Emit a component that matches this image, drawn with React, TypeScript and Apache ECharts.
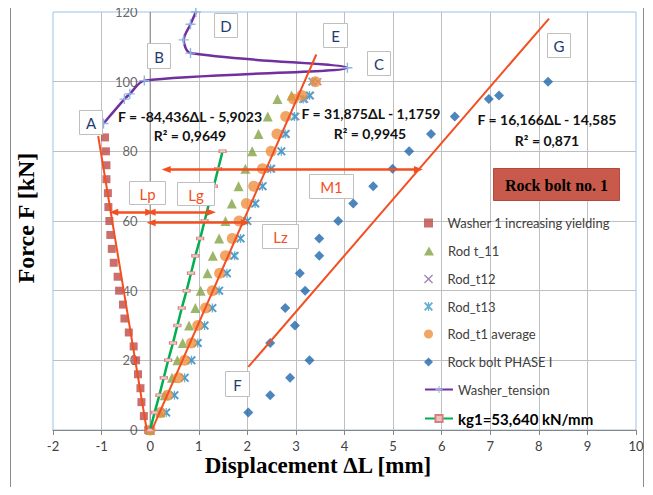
import React, { useEffect, useRef } from 'react';
import * as echarts from 'echarts';

// ---- data (x = displacement ΔL [mm], y = force F [kN]) ----
const yTickValues = [0, 20, 40, 60, 80, 100, 120];
const washerYielding: [number, number][] = [
  [-0.04, 0], [-0.13, 4], [-0.18, 8], [-0.2, 12], [-0.25, 16], [-0.29, 20], [-0.34, 24], [-0.44, 28],
  [-0.53, 32], [-0.56, 36], [-0.64, 40], [-0.67, 44], [-0.75, 48], [-0.79, 52], [-0.82, 56], [-0.84, 60],
  [-0.86, 64], [-0.87, 68], [-0.9, 72], [-0.9, 76], [-0.91, 80], [-0.93, 84],
];
const rodT11: [number, number][] = [
  [0, 0], [0.21, 5], [0.3, 10], [0.45, 15], [0.56, 20], [0.67, 25], [0.8, 30], [0.93, 35], [1.04, 40],
  [1.18, 45], [1.29, 50], [1.42, 55], [1.55, 60], [1.68, 65], [1.82, 70], [1.96, 75], [2.1, 80],
  [2.23, 85], [2.42, 90], [2.62, 95], [2.91, 96],
];
const rodT12: [number, number][] = [
  [0, 0], [0.33, 5], [0.5, 10], [0.71, 15], [0.85, 20], [0.98, 25], [1.12, 30], [1.28, 35], [1.42, 40],
  [1.58, 45], [1.72, 50], [1.86, 55], [2.0, 60], [2.17, 65], [2.32, 70], [2.5, 75], [2.7, 80],
  [2.8, 85], [3.0, 90], [3.18, 95], [3.3, 96], [3.45, 100],
];
const rodT13: [number, number][] = [
  [0, 0], [0.33, 5], [0.5, 10], [0.71, 15], [0.85, 20], [0.98, 25], [1.12, 30], [1.28, 35], [1.42, 40],
  [1.58, 45], [1.74, 50], [1.86, 55], [2.0, 60], [2.16, 65], [2.31, 70], [2.48, 75], [2.7, 80],
  [2.78, 85], [2.97, 90], [3.15, 95], [3.28, 96], [3.34, 100],
];
const rodAverage: [number, number][] = [
  [0, 0], [0.21, 5], [0.36, 10], [0.58, 15], [0.71, 20], [0.85, 25], [0.98, 30], [1.14, 35], [1.28, 40],
  [1.43, 45], [1.55, 50], [1.69, 55], [1.83, 60], [1.98, 65], [2.13, 70], [2.31, 75], [2.49, 80],
  [2.61, 85], [2.79, 90], [2.95, 95], [3.12, 96], [3.4, 100],
];
const rockBoltPhase1: [number, number][] = [
  [2.02, 5], [2.47, 10], [2.88, 15], [3.28, 20], [2.47, 25], [2.98, 30], [2.78, 35], [3.19, 40],
  [3.08, 45], [3.48, 50], [3.48, 55], [3.87, 60], [4.18, 65], [4.59, 70], [4.99, 75], [5.33, 80],
  [5.78, 85], [6.27, 90], [6.97, 95], [7.18, 96], [8.19, 100],
];
const washerTension: [number, number][] = [
  [-0.96, 88], [-0.53, 95], [-0.42, 96.5], [-0.12, 100.3], [4.06, 104], [0.83, 108.2],
  [0.69, 112], [0.83, 116.5], [0.94, 120],
];
const kg1Line: [number, number][] = [
  [0, 0], [0.09, 5], [0.19, 10], [0.28, 15], [0.37, 20], [0.47, 25], [0.56, 30], [0.65, 35], [0.75, 40],
  [0.84, 45], [0.93, 50], [1.03, 55], [1.12, 60], [1.21, 65], [1.31, 70], [1.4, 75], [1.49, 80],
];
const trendWasher: [number, number][] = [[-0.07, 0], [-1.07, 84.4]];
const trendRod: [number, number][] = [[0.04, 0.1], [3.42, 107.8]];
const trendRockBolt: [number, number][] = [[2.02, 18.1], [8.21, 118.1]];
const arrowLp: [number, number][] = [[-0.75, 62.5], [-0.01, 62.5]];
const arrowLg: [number, number][] = [[0.02, 62.5], [1.26, 62.5]];
const arrowLz: [number, number][] = [[0.02, 59.5], [1.96, 59.5]];
const arrowM1: [number, number][] = [[0.33, 74.8], [5.52, 74.8]];

const legendNames = [
  'Washer 1 increasing yielding', 'Rod t_11', 'Rod_t12', 'Rod_t13', 'Rod_t1 average',
  'Rock bolt PHASE I', 'Washer_tension', 'kg1=53,640 kN/mm',
];
const equationTexts = [
  ['F = -84,436ΔL - 5,9023', 'R² = 0,9649'],
  ['F = 31,875ΔL - 1,1759', 'R² = 0,9945'],
  ['F = 16,166ΔL - 14,585', 'R² = 0,871'],
];
const pointLabels = ['A', 'B', 'C', 'D', 'E', 'F', 'G'];
const lengthLabels = ['Lp', 'Lg', 'M1', 'Lz'];

// ---- layout / style constants ----
const ORANGE = '#F25022';
const NAVY = '#1F3A70';
const SQUARE_PATH = 'path://M0,0H10V10H0Z';
const TRIANGLE_PATH = 'path://M5,0L10,9L0,9Z';
const DIAMOND_PATH = 'path://M5,0L10,5L5,10L0,5Z';
const X_PATH = 'path://M0,1L1,0L5,4L9,0L10,1L6,5L10,9L9,10L5,6L1,10L0,9L4,5Z';
const STAR_PATH = 'path://M0,1.5L1.5,0L5,3.5L8.5,0L10,1.5L6.5,5L10,8.5L8.5,10L5,6.5L1.5,10L0,8.5L3.5,5ZM4.3,0L5.7,0L5.7,10L4.3,10Z';
const PLUS_PATH = 'path://M4.3,0H5.7V4.3H10V5.7H5.7V10H4.3V5.7H0V4.3H4.3Z';

const pointBoxes: Record<string, [number, number, number, number]> = {
  A: [79, 110, 23, 24], B: [147, 43, 23, 25], C: [367, 51, 23, 24], D: [214, 13, 23, 24],
  E: [323, 23, 24, 24], F: [225, 371, 24, 25], G: [547, 33, 23, 24],
};
const lengthBoxes: Record<string, [number, number, number, number]> = {
  Lp: [129, 181, 36, 23], Lg: [177, 182, 37, 23], M1: [309, 174, 44, 24], Lz: [262, 224, 36, 24],
};
const equationPos: [number, number, number, number][] = [
  [190, 116, 190, 135], [371, 113, 370, 133], [547, 119, 547, 140],
];
const legendCenters = [221, 249, 277, 304.5, 332, 360, 387.5, 415.5];

function boxGraphic(label: string, b: [number, number, number, number], color: string) {
  return {
    type: 'group',
    z: 100,
    children: [
      {
        type: 'rect',
        shape: { x: b[0] + 0.5, y: b[1] + 0.5, width: b[2], height: b[3] },
        style: { fill: '#ffffff', stroke: '#BFBFBF', lineWidth: 1 },
        z: 100,
      },
      {
        type: 'text',
        x: b[0] + b[2] / 2 + 0.5,
        y: b[1] + b[3] / 2 + 1,
        style: {
          text: label, fill: color, font: '15px Lato', align: 'center', verticalAlign: 'middle',
        },
        z: 101,
      },
    ],
  };
}

function trendSeries(data: [number, number][]) {
  return {
    type: 'line', data, symbol: 'none', silent: true, z: 5,
    lineStyle: { color: ORANGE, width: 2 }, itemStyle: { color: ORANGE },
  };
}

export default function App() {
  const ref = useRef<HTMLDivElement>(null);
  useEffect(() => {
    if (!ref.current) return;
    const chart = echarts.init(ref.current, undefined, { renderer: 'svg' });
    const labelStyle = { color: '#404040', fontSize: 13, fontFamily: 'Lato' };
    const graphics: any[] = [
      {
        type: 'rect', z: 0,
        shape: { x: 10.5, y: 2.5, width: 633, height: 488 },
        style: { fill: 'none', stroke: '#8C8C8C', lineWidth: 1 },
      },
      {
        type: 'text', x: 318, y: 465, z: 50,
        style: { text: 'Displacement ΔL [mm]', font: 'bold 23px "Liberation Serif"', fill: '#000', align: 'center', verticalAlign: 'middle' },
      },
      {
        type: 'text', x: 26, y: 218, rotation: Math.PI / 2, z: 50,
        style: { text: 'Force F [kN]', font: 'bold 24px "Liberation Serif"', fill: '#000', align: 'center', verticalAlign: 'middle' },
      },
    ];
    equationTexts.forEach((lines, i) => {
      const p = equationPos[i];
      graphics.push({
        type: 'text', x: p[0], y: p[1], z: 60,
        style: { text: lines[0], font: 'bold 14px Lato', fill: '#111', align: 'center', verticalAlign: 'middle' },
      });
      graphics.push({
        type: 'text', x: p[2], y: p[3], z: 60,
        style: { text: lines[1], font: 'bold 14px Lato', fill: '#111', align: 'center', verticalAlign: 'middle' },
      });
    });
    pointLabels.forEach((l) => graphics.push(boxGraphic(l, pointBoxes[l], NAVY)));
    lengthLabels.forEach((l) => graphics.push(boxGraphic(l, lengthBoxes[l], ORANGE)));
    graphics.push({
      type: 'group', z: 100,
      children: [
        {
          type: 'rect', z: 100,
          shape: { x: 493.5, y: 168.5, width: 126, height: 32 },
          style: { fill: '#C95A4B', stroke: '#B04A3E', lineWidth: 1 },
        },
        {
          type: 'text', x: 556.5, y: 185, z: 101,
          style: { text: 'Rock bolt no. 1', font: 'bold 16px "Liberation Serif"', fill: '#000', align: 'center', verticalAlign: 'middle' },
        },
      ],
    });

    const option: any = {
      animation: false,
      backgroundColor: '#ffffff',
      grid: {
        left: 53, right: 17, top: 12, bottom: 65,
        show: true, borderColor: '#9DC3E6', borderWidth: 1, backgroundColor: 'transparent',
      },
      xAxis: {
        type: 'value', min: -2, max: 10, interval: 1,
        axisLine: { onZero: false, lineStyle: { color: '#868686', width: 1 } },
        axisTick: { show: true, length: 5, lineStyle: { color: '#868686' } },
        axisLabel: { ...labelStyle, margin: 9 },
        splitLine: { show: true, showMinLine: false, showMaxLine: false, lineStyle: { color: '#BFBFBF', width: 1 } },
      },
      yAxis: {
        type: 'value', min: 0, max: 120, interval: 20,
        axisLine: { show: false },
        axisTick: { show: false },
        axisLabel: { show: false },
        splitLine: { show: true, showMinLine: false, showMaxLine: false, lineStyle: { color: '#BFBFBF', width: 1 } },
      },
      legend: legendNames.map((name, i) => ({
        data: [name],
        left: 424,
        top: legendCenters[i] - 4.5,
        padding: 0,
        itemWidth: 28,
        itemHeight: 9,
        itemGap: 0,
        selectedMode: false,
        textStyle: i === 7
          ? { fontFamily: 'Lato', fontSize: 15, fontWeight: 'bold', color: '#000', lineHeight: 9 }
          : { fontFamily: 'Lato', fontSize: 13, color: '#404040', lineHeight: 9 },
      })),
      graphic: graphics,
      series: [
        {
          // y-axis line at ΔL = 0 with its tick labels
          type: 'line', silent: true, z: 1,
          data: [[0, yTickValues[0]], [0, yTickValues[yTickValues.length - 1]]],
          symbol: 'none',
          lineStyle: { color: '#868686', width: 1 },
        },
        {
          type: 'scatter', silent: true, z: 1,
          data: yTickValues.map((v) => [0, v]),
          symbol: 'rect', symbolSize: 1,
          itemStyle: { color: 'rgba(0,0,0,0)' },
          label: {
            show: true, position: 'left', distance: 12, ...labelStyle,
            formatter: (p: any) => String(p.value[1]),
          },
        },
        {
          name: legendNames[0], type: 'scatter', data: washerYielding, symbol: SQUARE_PATH, symbolSize: 8, z: 2,
          itemStyle: { color: '#BE4B48' },
        },
        {
          name: legendNames[1], type: 'scatter', data: rodT11, symbol: TRIANGLE_PATH, symbolSize: 10, z: 2,
          itemStyle: { color: '#83A443' },
        },
        {
          name: legendNames[2], type: 'scatter', data: rodT12, symbol: X_PATH, symbolSize: 8, z: 2,
          itemStyle: { color: '#8064A2' },
        },
        {
          name: legendNames[3], type: 'scatter', data: rodT13, symbol: STAR_PATH, symbolSize: 9, z: 2,
          itemStyle: { color: '#3A9CC8' },
        },
        {
          name: legendNames[4], type: 'scatter', data: rodAverage, symbol: 'circle', symbolSize: 11, z: 2,
          itemStyle: { color: '#EE9040' },
        },
        {
          name: legendNames[5], type: 'scatter', data: rockBoltPhase1, symbol: DIAMOND_PATH, symbolSize: 10, z: 2,
          itemStyle: { color: '#2166AC' },
        },
        {
          name: legendNames[6], type: 'line', data: washerTension, smooth: 0.3, z: 3,
          symbol: PLUS_PATH, symbolSize: 10, showSymbol: true,
          lineStyle: { color: '#7030A0', width: 2.5 },
          itemStyle: { color: '#8EB4E3', borderWidth: 0 },
        },
        {
          name: legendNames[7], type: 'line', data: kg1Line, z: 3,
          symbol: 'rect', symbolSize: [7, 3], showSymbol: true,
          lineStyle: { color: '#00B050', width: 2.5 },
          itemStyle: { color: '#F2C0C0', borderColor: '#D68080', borderWidth: 0.8 },
        },
        trendSeries(trendWasher),
        trendSeries(trendRod),
        trendSeries(trendRockBolt),
        {
          type: 'line', data: [], silent: true, z: 6,
          markLine: {
            silent: true,
            animation: false,
            symbol: ['triangle', 'triangle'],
            symbolSize: [7, 9],
            label: { show: false },
            lineStyle: { color: ORANGE, width: 2.5, type: 'solid' },
            emphasis: { disabled: true },
            data: [arrowLp, arrowLg, arrowLz, arrowM1].map((a) => [
              { coord: a[0] }, { coord: a[1] },
            ]),
          },
        },
      ],
    };
    chart.setOption(option);
    return () => chart.dispose();
  }, []);
  return <div ref={ref} style={{ width: 653, height: 495, margin: -8 }} />;
}
